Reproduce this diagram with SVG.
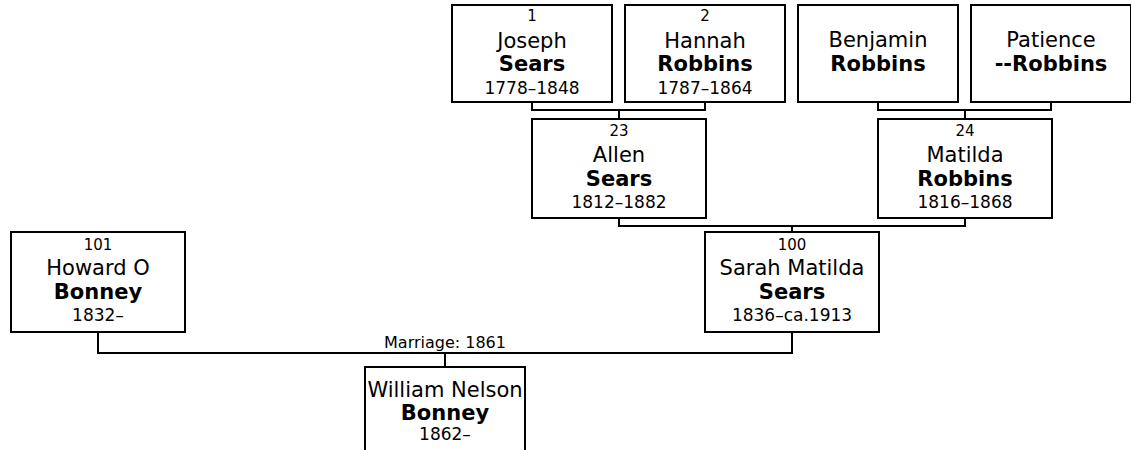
<svg xmlns="http://www.w3.org/2000/svg" width="1131" height="450" viewBox="0 0 1131 450">
<style>
.box{fill:#fff;stroke:#000;stroke-width:2}
.con{fill:none;stroke:#000;stroke-width:2}
text{font-family:"DejaVu Sans",Verdana,sans-serif;fill:#000;text-anchor:middle}
.num{font-size:15px}
.nm{font-size:21px}
.sn{font-size:21px;font-weight:bold}
.dt{font-size:17px}
.lbl{font-size:16px}
</style>
<rect width="1131" height="450" fill="#fff"/>
<g id="connectors">
<path class="con" d="M532,102 V110 H705 V102 M619,110 V119"/>
<path class="con" d="M878,102 V110 H1051 V102 M965,110 V119"/>
<path class="con" d="M619,218 V226 H965 V218 M792,226 V232"/>
<path class="con" d="M98,332 V353 H792 V332 M445,353 V367"/>
<text class="lbl" x="445" y="348">Marriage: 1861</text>
</g>
<g id="p1">
<rect class="box" x="452" y="5" width="160" height="97"/>
<text class="num" x="532" y="21">1</text>
<text class="nm" x="532" y="48">Joseph</text>
<text class="sn" x="532" y="71">Sears</text>
<text class="dt" x="532" y="94">1778–1848</text>
</g>
<g id="p2">
<rect class="box" x="625" y="5" width="160" height="97"/>
<text class="num" x="705" y="21">2</text>
<text class="nm" x="705" y="48">Hannah</text>
<text class="sn" x="705" y="71">Robbins</text>
<text class="dt" x="705" y="94">1787–1864</text>
</g>
<g id="p3">
<rect class="box" x="798" y="5" width="160" height="97"/>
<text class="nm" x="878" y="47">Benjamin</text>
<text class="sn" x="878" y="71">Robbins</text>
</g>
<g id="p4">
<rect class="box" x="971" y="5" width="160" height="97"/>
<text class="nm" x="1051" y="47">Patience</text>
<text class="sn" x="1051" y="71">--Robbins</text>
</g>
<g id="p23">
<rect class="box" x="532" y="119" width="174" height="99"/>
<text class="num" x="619" y="136">23</text>
<text class="nm" x="619" y="162">Allen</text>
<text class="sn" x="619" y="186">Sears</text>
<text class="dt" x="619" y="208">1812–1882</text>
</g>
<g id="p24">
<rect class="box" x="878" y="119" width="174" height="99"/>
<text class="num" x="965" y="136">24</text>
<text class="nm" x="965" y="162">Matilda</text>
<text class="sn" x="965" y="186">Robbins</text>
<text class="dt" x="965" y="208">1816–1868</text>
</g>
<g id="p101">
<rect class="box" x="11" y="232" width="174" height="100"/>
<text class="num" x="98" y="250">101</text>
<text class="nm" x="98" y="275">Howard O</text>
<text class="sn" x="98" y="299">Bonney</text>
<text class="dt" x="98" y="321">1832–</text>
</g>
<g id="p100">
<rect class="box" x="705" y="232" width="174" height="100"/>
<text class="num" x="792" y="250">100</text>
<text class="nm" x="792" y="275">Sarah Matilda</text>
<text class="sn" x="792" y="299">Sears</text>
<text class="dt" x="792" y="321">1836–ca.1913</text>
</g>
<g id="p200">
<rect class="box" x="365" y="367" width="160" height="97"/>
<text class="nm" x="445" y="397">William Nelson</text>
<text class="sn" x="445" y="420">Bonney</text>
<text class="dt" x="445" y="440">1862–</text>
</g>
</svg>
